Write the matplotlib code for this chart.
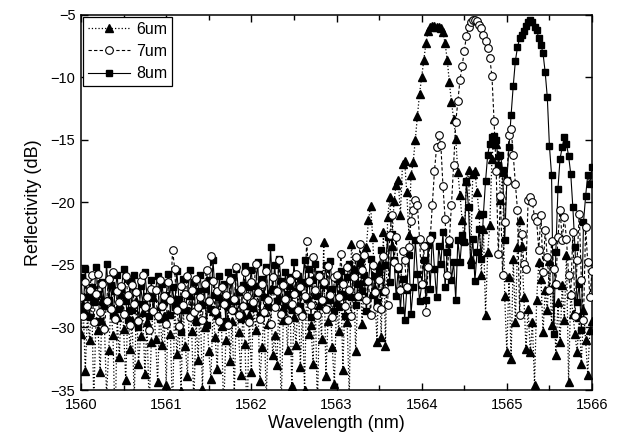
import numpy as np
import matplotlib
matplotlib.use("Agg")
import matplotlib.pyplot as plt
from matplotlib.ticker import MultipleLocator

plt.rcParams['font.family'] = ['Liberation Sans', 'DejaVu Sans']

# wavelength sampling grid of the scan (nm), 0.025 nm step
wavelength = np.linspace(1560.0, 1566.0, 241)

# reflectivity (dB), 20 samples (0.5 nm) per row
refl_6um = [
    -30.5, -28.2, -33.5, -29.0, -31.0, -27.5, -36.0, -29.5, -30.2, -33.6, -27.8, -29.9, -35.5, -31.8, -28.4, -30.6, -38.0, -29.2, -32.4, -27.3,
    -30.1, -34.2, -28.6, -31.7, -29.4, -35.8, -27.9, -32.9, -30.7, -28.8, -33.7, -29.6, -36.5, -31.2, -27.6, -30.9, -34.4, -28.3, -31.4, -29.1,
    -34.6, -28.9, -30.5, -37.0, -27.7, -32.1, -29.8, -35.1, -28.5, -31.5, -33.9, -27.4, -30.3, -36.2, -29.3, -32.6, -28.1, -34.9, -30.0, -27.9,
    -31.9, -34.1, -28.7, -30.8, -33.3, -27.5, -29.9, -36.8, -31.0, -28.2, -32.7, -29.5, -35.4, -27.8, -30.4, -33.8, -28.9, -31.3, -37.5, -29.0,
    -33.6, -28.4, -30.2, -27.2, -34.3, -31.6, -28.8, -35.9, -29.7, -26.9, -32.2, -30.6, -33.0, -27.6, -36.3, -29.4, -28.1, -31.8, -26.6, -34.7,
    -29.2, -31.4, -27.1, -33.2, -28.6, -35.0, -26.4, -30.5, -29.8, -32.9, -27.3, -36.7, -28.2, -30.9, -23.2, -33.9, -29.5, -27.7, -31.6, -34.5,
    -28.0, -30.3, -26.2, -33.4, -27.4, -29.6, -35.6, -23.3, -25.3, -31.9, -27.5, -24.8, -29.7, -26.3, -23.6, -21.4, -20.3, -22.8, -26.9, -31.2,
    -25.0, -30.8, -22.4, -31.5, -21.2, -19.6, -23.5, -19.9, -18.6, -18.2, -21.0, -16.9, -16.7, -19.2, -22.6, -17.8, -16.8, -15.0, -13.1, -11.3,
    -10.0, -8.6, -7.3, -6.3, -6.0, -5.9, -5.9, -5.95, -6.0, -6.1, -6.4, -7.3, -8.6, -10.4, -12.0, -13.3, -14.9, -17.6, -19.4, -21.4,
    -23.0, -18.3, -17.4, -24.5, -17.7, -17.5, -19.2, -20.9, -25.8, -22.1, -29.0, -24.0, -21.8, -16.5, -14.8, -15.3, -16.2, -19.8, -17.6, -27.5,
    -32.0, -26.0, -32.5, -24.5, -29.6, -23.6, -21.4, -23.5, -27.6, -31.7, -28.5, -32.0, -29.6, -34.6, -27.8, -24.8, -26.1, -30.4, -27.0, -28.6,
    -24.7, -29.8, -26.5, -32.2, -28.0, -31.2, -26.6, -29.4, -24.2, -34.4, -27.3, -28.9, -30.5, -32.0, -29.2, -32.9, -28.6, -31.0, -33.8, -30.2,
    -29.5,
]

refl_7um = [
    -27.6, -29.1, -26.4, -28.3, -27.0, -25.8, -29.6, -27.3, -25.7, -28.8, -26.5, -30.1, -27.9, -26.1, -28.5, -25.6, -29.3, -27.1, -28.0, -26.7,
    -28.9, -25.9, -27.4, -29.8, -26.6, -28.1, -27.2, -29.5, -26.3, -25.8, -28.4, -27.6, -30.2, -26.9, -28.7, -27.0, -29.1, -26.2, -28.3, -27.5,
    -29.7, -26.4, -27.8, -23.8, -25.3, -28.6, -29.9, -26.7, -28.2, -27.3, -25.9, -29.2, -27.0, -28.8, -26.1, -28.4, -27.6, -29.4, -26.5, -25.4,
    -27.9, -24.3, -26.3, -28.7, -27.1, -29.5, -26.8, -28.1, -27.4, -29.8, -26.2, -28.6, -27.7, -25.2, -29.0, -26.9, -28.3, -25.6, -27.5, -29.6,
    -26.4, -28.0, -24.9, -27.2, -29.3, -26.5, -28.8, -25.5, -27.8, -29.7, -26.0, -28.4, -27.1, -24.6, -28.9, -26.6, -27.7, -29.4, -26.2, -28.1,
    -27.3, -25.7, -28.6, -26.8, -29.1, -27.5, -23.1, -26.3, -28.2, -24.4, -27.0, -29.0, -25.9, -27.8, -26.4, -28.5, -25.1, -27.4, -29.2, -26.0,
    -25.8, -27.6, -24.1, -26.5, -28.3, -25.2, -27.0, -29.1, -26.0, -24.4, -27.5, -23.3, -25.4, -24.2, -27.8, -26.3, -29.0, -25.0, -27.2, -28.4,
    -26.2, -28.5, -24.3, -27.1, -28.2, -22.6, -21.0, -24.8, -22.8, -25.2, -27.0, -23.9, -24.6, -26.8, -23.6, -21.5, -20.6, -19.8, -20.2, -22.9,
    -26.5, -23.5, -28.8, -25.2, -22.9, -20.2, -17.5, -15.6, -14.6, -15.4, -18.7, -21.3, -25.8, -23.0, -20.2, -17.0, -13.6, -11.9, -10.2, -9.1,
    -7.9, -6.7, -5.95, -5.6, -5.4, -5.4, -5.5, -5.8, -6.1, -6.6, -7.1, -7.7, -8.5, -9.9, -13.5, -17.5, -24.1, -19.5, -25.8, -21.6,
    -18.3, -14.6, -14.1, -16.2, -18.5, -20.6, -29.0, -22.5, -24.9, -25.3, -19.8, -19.6, -20.0, -21.2, -21.5, -23.8, -21.0, -25.6, -22.2, -24.4,
    -27.0, -23.1, -25.3, -26.5, -22.8, -20.6, -23.0, -21.2, -22.9, -25.8, -27.4, -22.4, -29.1, -24.6, -20.9, -26.2, -29.4, -22.0, -24.8, -27.6,
    -25.5,
]

refl_8um = [
    -26.0, -28.7, -25.3, -27.6, -29.2, -26.8, -28.0, -25.2, -27.3, -29.5, -26.4, -28.3, -24.9, -27.8, -26.6, -29.0, -27.1, -25.8, -28.5, -26.9,
    -25.3, -27.9, -29.4, -26.3, -28.6, -25.8, -27.2, -30.0, -26.7, -28.1, -25.6, -27.5, -29.1, -26.2, -28.8, -27.0, -25.9, -29.3, -26.5, -28.0,
    -27.4, -25.7, -29.0, -26.8, -28.4, -25.5, -27.7, -30.4, -26.1, -28.6, -27.3, -25.4, -28.9, -26.4, -29.6, -27.1, -25.8, -28.2, -26.9, -29.8,
    -26.2, -28.5, -24.6, -27.4, -29.1, -25.9, -28.0, -26.5, -29.5, -25.6, -27.9, -26.0, -28.7, -25.3, -27.2, -29.3, -26.6, -25.1, -28.3, -26.8,
    -25.4, -28.1, -26.7, -24.8, -29.0, -26.1, -27.6, -25.2, -28.4, -23.6, -26.9, -25.0, -27.9, -24.5, -26.3, -28.8, -25.6, -27.3, -26.0, -28.6,
    -24.8, -27.1, -25.9, -28.3, -26.4, -24.6, -27.7, -25.3, -29.2, -26.2, -24.9, -27.5, -25.7, -28.0, -26.6, -25.0, -27.8, -24.7, -26.9, -28.7,
    -26.1, -28.4, -25.5, -27.3, -29.1, -26.0, -24.9, -27.6, -25.4, -28.2, -26.5, -24.7, -27.1, -25.8, -28.7, -26.3, -24.5, -27.4, -25.9, -28.0,
    -25.6, -23.8, -27.2, -25.0, -22.8, -26.4, -22.5, -24.6, -27.5, -25.3, -28.6, -26.1, -29.4, -27.0, -24.2, -28.9, -26.8, -23.0, -25.7, -27.9,
    -26.6, -24.6, -27.8, -23.4, -26.9, -22.6, -25.3, -27.6, -23.5, -24.9, -22.4, -26.8, -24.0, -23.3, -26.2, -24.8, -27.8, -23.0, -24.8, -22.6,
    -23.2, -18.3, -20.4, -25.0, -22.9, -26.3, -24.0, -22.1, -24.5, -20.9, -18.3, -16.2, -15.3, -14.8, -14.7, -15.0, -17.0, -16.2, -17.4, -23.0,
    -18.2, -15.6, -13.0, -10.7, -8.7, -7.6, -6.9, -6.6, -6.3, -5.9, -5.6, -5.4, -5.6, -5.95, -6.2, -6.9, -7.4, -8.1, -9.6, -11.6,
    -15.5, -17.8, -30.5, -24.0, -18.9, -16.5, -15.6, -14.8, -15.3, -16.3, -17.7, -20.4, -23.6, -28.0, -26.5, -30.2, -21.6, -19.5, -17.8, -18.5,
    -17.2,
]

labels = ['6um', '7um', '8um']

fig = plt.figure(figsize=(6.17, 4.36), dpi=100)
ax = fig.add_axes([0.1313, 0.1055, 0.8282, 0.8608])

ax.plot(wavelength, refl_6um, color='black', linestyle=':', linewidth=0.9,
        marker='^', markersize=6, markerfacecolor='black', markeredgecolor='black',
        label=labels[0], zorder=2)
ax.plot(wavelength, refl_8um, color='black', linestyle='-', linewidth=0.8,
        marker='s', markersize=5, markerfacecolor='black', markeredgecolor='black',
        label=labels[2], zorder=2)
ax.plot(wavelength, refl_7um, color='black', linestyle=(0, (3, 2)), linewidth=0.8,
        marker='o', markersize=5.5, markerfacecolor='white', markeredgecolor='black',
        markeredgewidth=0.8, label=labels[1], zorder=3)

ax.set_xlim(1560, 1566)
ax.set_ylim(-35, -5)
ax.xaxis.set_major_locator(MultipleLocator(1))
ax.xaxis.set_minor_locator(MultipleLocator(0.5))
ax.yaxis.set_major_locator(MultipleLocator(5))
ax.tick_params(which='both', direction='in', top=True, right=True, labelsize=10.5, width=1.0)
ax.tick_params(which='major', length=5)
ax.tick_params(which='minor', length=3.5)
ax.tick_params(axis='x', pad=6)
ax.tick_params(axis='y', pad=4)
for sp in ax.spines.values():
    sp.set_linewidth(1.1)

ax.set_xlabel('Wavelength (nm)', fontsize=13, labelpad=2)
ax.set_ylabel('Reflectivity (dB)', fontsize=13, labelpad=6)

# legend in original order 6, 7, 8
h, l = ax.get_legend_handles_labels()
order = [l.index(name) for name in labels]
leg = ax.legend([h[k] for k in order], [l[k] for k in order], loc='upper left',
                bbox_to_anchor=(0.0, 1.0), borderaxespad=0.15, fancybox=False,
                edgecolor='black', framealpha=1, fontsize=11.5, handlelength=2.6,
                handletextpad=0.4, labelspacing=0.45, borderpad=0.3)
leg.get_frame().set_linewidth(0.9)

fig.savefig('out.png', dpi=100)
